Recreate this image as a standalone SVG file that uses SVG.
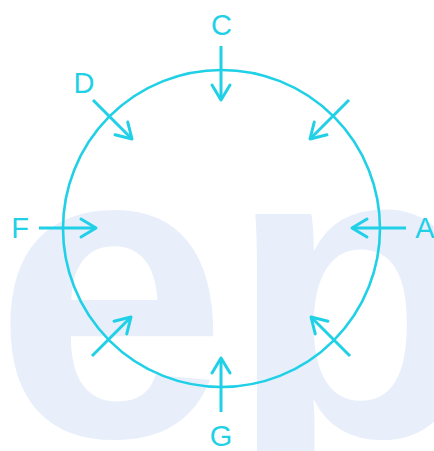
<svg xmlns="http://www.w3.org/2000/svg" width="434" height="451" viewBox="0 0 434 451">
<style>
.wm{font-family:"Liberation Sans",Arial,sans-serif;font-weight:bold;font-size:420px;fill:#e8effb}
.lbl{font-family:"Liberation Sans",Arial,sans-serif;font-size:29px;fill:#1fd0e6;text-anchor:middle}
.arr{stroke:#1fd0e6;stroke-width:3;fill:none;marker-end:url(#ah)}
.ring{stroke:#1fd0e6;stroke-width:2.6;fill:none}
</style>
<defs>
<marker id="ah" markerUnits="userSpaceOnUse" viewBox="-20 -12 24 24" markerWidth="24" markerHeight="24" refX="0" refY="0" orient="auto">
<path d="M-15,-9 L0,0 L-15,9" fill="none" stroke="#1fd0e6" stroke-width="3" stroke-linecap="round" stroke-linejoin="round"/>
</marker>
</defs>
<rect width="434" height="451" fill="#ffffff"/>
<text class="wm" x="-6" y="436">ep</text>
<g id="ring"><circle class="ring" cx="221.5" cy="228.5" r="158.5"/></g>
<g id="connectors">
<line class="arr" x1="221" y1="46" x2="221" y2="100"/>
<line class="arr" x1="93" y1="100" x2="132" y2="139"/>
<line class="arr" x1="349" y1="100" x2="310" y2="139"/>
<line class="arr" x1="39" y1="228" x2="96" y2="228"/>
<line class="arr" x1="406" y1="228" x2="352" y2="228"/>
<line class="arr" x1="92" y1="356" x2="131" y2="317"/>
<line class="arr" x1="350" y1="356" x2="311" y2="317"/>
<line class="arr" x1="221" y1="412" x2="221" y2="358"/>
</g>
<g id="C"><text class="lbl" x="221.5" y="35">C</text></g>
<g id="D"><text class="lbl" x="84" y="93">D</text></g>
<g id="F"><text class="lbl" x="20" y="238">F</text></g>
<g id="A"><text class="lbl" x="425" y="238">A</text></g>
<g id="G"><text class="lbl" x="221" y="446">G</text></g>
</svg>
